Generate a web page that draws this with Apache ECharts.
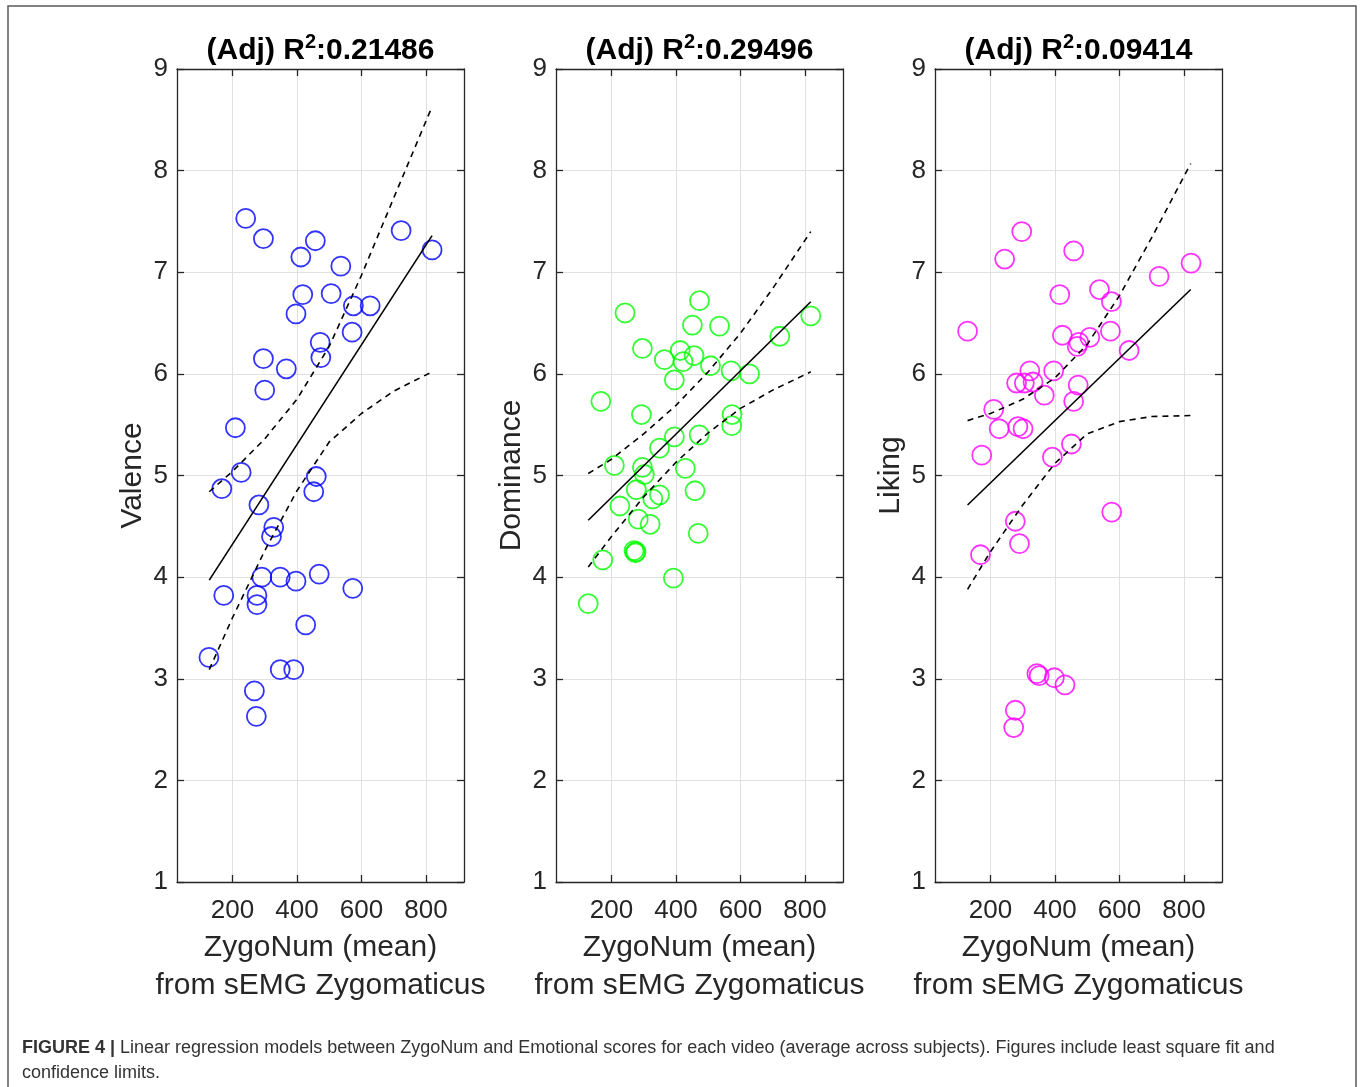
<!DOCTYPE html>
<html><head><meta charset="utf-8">
<script src="https://cdn.jsdelivr.net/npm/echarts@6/dist/echarts.min.js"></script>
<style>html,body{margin:0;padding:0;background:#fff}#c{width:1360px;height:1087px}</style>
</head><body><div id="c"></div><script>
// ---- data ----
const xTicks = [200, 400, 600, 800];
const xRange = [28, 918];
const yRange = [1, 9];
const titles = ['0.21486', '0.29496', '0.09414'];
const yNames = ['Valence', 'Dominance', 'Liking'];
const xName = 'ZygoNum (mean)\nfrom sEMG Zygomaticus';
const colors = ['#0000ff', '#00ff00', '#ff00ff'];

const valenceX = [241,296,457,412,723,819,536,418,506,575,627,397,571,472,474,296,367,300,209,227,167,460,452,282,328,321,291,348,397,469,573,173,276,276,427,127,348,390,268,274];
const valenceY = [7.53,7.33,7.31,7.15,7.41,7.22,7.06,6.78,6.79,6.67,6.67,6.59,6.41,6.31,6.16,6.15,6.05,5.84,5.47,5.03,4.87,4.99,4.84,4.71,4.49,4.40,4.00,4.00,3.96,4.03,3.89,3.82,3.82,3.73,3.53,3.21,3.09,3.09,2.88,2.63];

const dominanceX = [473,242,818,451,535,722,296,413,364,422,456,507,571,628,395,167,293,574,573,472,395,349,209,296,302,429,277,459,349,328,226,283,320,469,270,274,276,173,392,128];
const dominanceY = [6.72,6.60,6.57,6.48,6.47,6.37,6.25,6.23,6.14,6.12,6.18,6.08,6.03,6.00,5.94,5.73,5.60,5.60,5.49,5.40,5.38,5.27,5.10,5.08,5.01,5.07,4.86,4.85,4.81,4.77,4.70,4.57,4.52,4.43,4.26,4.24,4.25,4.17,3.99,3.74];

const likingX = [297,244,458,415,538,575,723,822,129,423,572,474,469,508,630,322,396,281,305,332,472,367,458,210,227,285,301,173,392,451,576,277,290,169,344,351,398,431,277,272];
const likingY = [7.40,7.13,7.21,6.78,6.83,6.71,6.96,7.09,6.42,6.38,6.42,6.31,6.27,6.36,6.23,6.03,6.03,5.91,5.91,5.92,5.89,5.79,5.73,5.65,5.46,5.48,5.46,5.20,5.18,5.31,4.64,4.55,4.33,4.22,3.05,3.03,3.01,2.94,2.69,2.52];

// fit lines (end points) and confidence limits (read at knots)
const valenceFitX = [128, 819];   const valenceFitY = [3.97, 7.36];
const dominanceFitX = [128, 818]; const dominanceFitY = [4.56, 6.71];
const likingFitX = [129, 821];    const likingFitY = [4.71, 6.83];

const valenceCIX = [128,200,300,400,500,600,700,819];
const valenceUpper = [4.84,5.04,5.36,5.75,6.27,6.97,7.73,8.63];
const valenceLower = [3.09,3.60,4.26,4.85,5.33,5.61,5.83,6.02];
const dominanceCIX = [128,200,300,400,500,600,700,818];
const dominanceUpper = [5.02,5.16,5.41,5.69,6.02,6.40,6.84,7.40];
const dominanceLower = [4.10,4.40,4.79,5.13,5.42,5.66,5.84,6.02];
const likingCIX = [129,200,300,400,500,600,700,821];
const likingUpper = [5.54,5.61,5.75,5.96,6.29,6.77,7.34,8.07];
const likingLower = [3.88,4.25,4.71,5.12,5.41,5.53,5.58,5.59];

// ---- build ----
const zip = (a, b) => a.map((v, i) => [v, b[i]]);
const panels = [
  {px: valenceX, py: valenceY, fx: valenceFitX, fy: valenceFitY, cx: valenceCIX, up: valenceUpper, lo: valenceLower},
  {px: dominanceX, py: dominanceY, fx: dominanceFitX, fy: dominanceFitY, cx: dominanceCIX, up: dominanceUpper, lo: dominanceLower},
  {px: likingX, py: likingY, fx: likingFitX, fy: likingFitY, cx: likingCIX, up: likingUpper, lo: likingLower}
];
const gridLefts = [177, 556, 935];
const gridW = 287, gridTop = 69, gridH = 813;
const axisColor = '#262626';
const FONT = '"Liberation Sans", Arial, Helvetica, sans-serif';

const grid = [], xAxis = [], yAxis = [], series = [], graphic = [];
panels.forEach((p, i) => {
  grid.push({left: gridLefts[i], top: gridTop, width: gridW, height: gridH, containLabel: false});
  const xBase = {
    type: 'value', gridIndex: i, min: xRange[0], max: xRange[1],
    axisLine: {show: true, onZero: false, lineStyle: {color: axisColor, width: 1.3}},
    axisTick: {show: true, inside: true, length: 7, customValues: xTicks, lineStyle: {color: axisColor, width: 1.3}},
  };
  xAxis.push(Object.assign({}, xBase, {
    position: 'bottom',
    axisLabel: {show: true, customValues: xTicks, margin: 16, color: axisColor, fontSize: 26, fontFamily: FONT},
    splitLine: {show: true, lineStyle: {color: '#e0e0e0', width: 1}},
    name: xName, nameLocation: 'middle', nameGap: 46,
    nameTextStyle: {color: axisColor, fontSize: 30, fontFamily: FONT, lineHeight: 38}
  }));
  xAxis.push(Object.assign({}, xBase, {
    position: 'top', axisLabel: {show: false}, splitLine: {show: false}
  }));
  const yBase = {
    type: 'value', gridIndex: i, min: yRange[0], max: yRange[1], interval: 1,
    axisLine: {show: true, onZero: false, lineStyle: {color: axisColor, width: 1.3}},
    axisTick: {show: true, inside: true, length: 7, lineStyle: {color: axisColor, width: 1.3}}
  };
  yAxis.push(Object.assign({}, yBase, {
    position: 'left',
    axisLabel: {show: true, margin: 9, color: axisColor, fontSize: 26, fontFamily: FONT},
    splitLine: {show: true, lineStyle: {color: '#e0e0e0', width: 1}},
    name: yNames[i], nameLocation: 'middle', nameGap: 29, nameRotate: 90,
    nameTextStyle: {color: axisColor, fontSize: 30, fontFamily: FONT}
  }));
  yAxis.push(Object.assign({}, yBase, {
    position: 'right', axisLabel: {show: false}, splitLine: {show: false}
  }));
  series.push({
    type: 'scatter', xAxisIndex: 2 * i, yAxisIndex: 2 * i, data: zip(p.px, p.py),
    symbol: 'circle', symbolSize: 19,
    itemStyle: {color: 'rgba(0,0,0,0)', borderColor: colors[i], borderWidth: 1.8},
    emphasis: {disabled: true}, z: 2
  });
  series.push({
    type: 'line', xAxisIndex: 2 * i, yAxisIndex: 2 * i, data: zip(p.fx, p.fy),
    showSymbol: false, lineStyle: {color: '#000', width: 1.6}, z: 3, silent: true
  });
  [p.up, p.lo].forEach(arr => {
    series.push({
      type: 'line', xAxisIndex: 2 * i, yAxisIndex: 2 * i, data: zip(p.cx, arr),
      showSymbol: false, smooth: false,
      lineStyle: {color: '#000', width: 1.6, type: [6, 5]}, z: 3, silent: true
    });
  });
  graphic.push({
    type: 'text', x: gridLefts[i] + gridW / 2, y: 51,
    style: {
      text: '{b|(Adj) R}{s|2}{b|:' + titles[i] + '}',
      textAlign: 'center', textVerticalAlign: 'middle',
      rich: {
        b: {fontSize: 30, fontWeight: 'bold', fontFamily: FONT, fill: '#000', lineHeight: 38},
        s: {fontSize: 20, fontWeight: 'bold', fontFamily: FONT, fill: '#000', lineHeight: 19, verticalAlign: 'top'}
      }
    }
  });
});

graphic.push({
  type: 'rect', shape: {x: 8, y: 6, width: 1348, height: 1100},
  style: {fill: 'none', stroke: '#5a5a5a', lineWidth: 1.5}, silent: true, z: -1
});
graphic.push({
  type: 'text', x: 22, y: 1048,
  style: {
    text: '{b|FIGURE 4 |} Linear regression models between ZygoNum and Emotional scores for each video (average across subjects). Figures include least square fit and',
    textVerticalAlign: 'middle', fontSize: 18, fontFamily: FONT, fill: '#333',
    rich: {b: {fontSize: 18, fontWeight: 'bold', fontFamily: FONT, fill: '#333'}}
  }
});
graphic.push({
  type: 'text', x: 22, y: 1073,
  style: {text: 'confidence limits.', textVerticalAlign: 'middle', fontSize: 18, fontFamily: FONT, fill: '#333'}
});

const chart = echarts.init(document.getElementById('c'));
chart.setOption({animation: false, backgroundColor: '#fff', grid, xAxis, yAxis, series, graphic});
</script></body></html>
